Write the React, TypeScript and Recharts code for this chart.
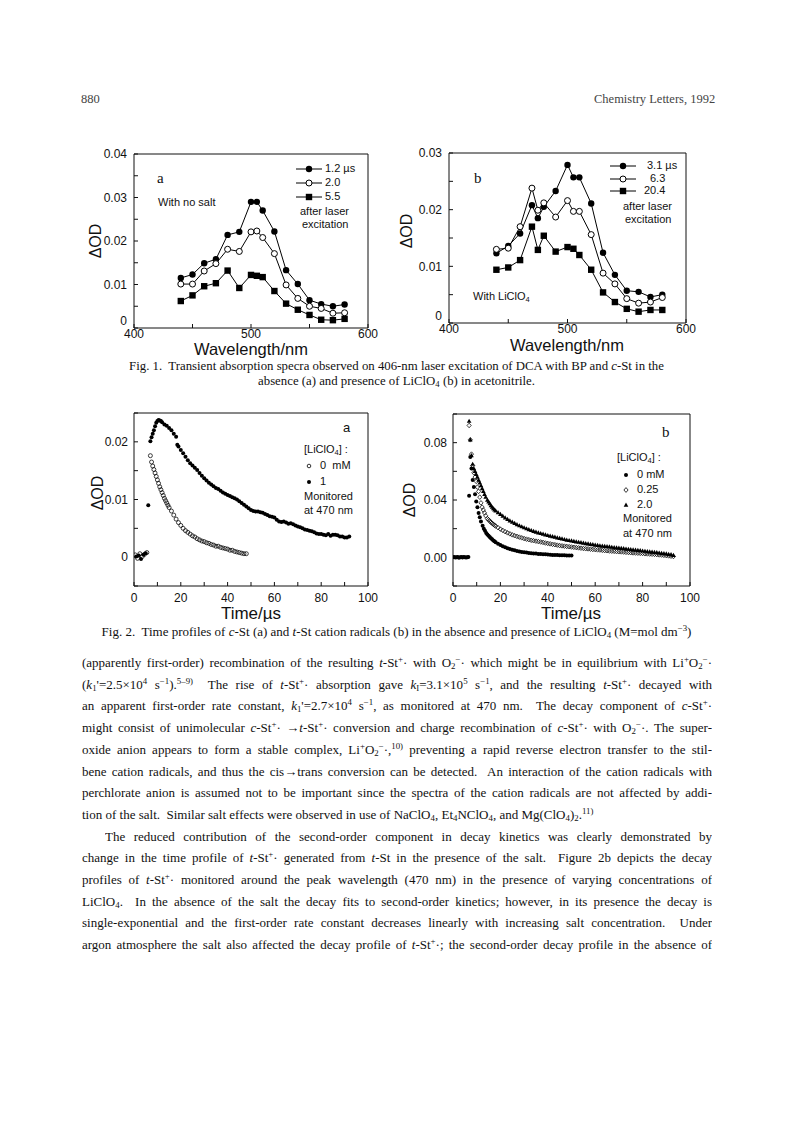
import React from "react";
import { ComposedChart, Line, Scatter, XAxis, YAxis } from "recharts";

const SANS = "'Liberation Sans', Arial, Helvetica, sans-serif";
const SERIF = "'Liberation Serif', 'Times New Roman', serif";
const INK = "#111";

// ---------- Fig. 1a : spectra, no salt ----------
const WL_1A = [440, 450, 460, 470, 480, 490, 500, 505, 510, 520, 530, 540, 550, 560, 570, 580];
const OD_1A_12 = [0.0115, 0.0123, 0.0149, 0.0158, 0.0214, 0.0221, 0.029, 0.029, 0.027, 0.0222, 0.0133, 0.0101, 0.0064, 0.0055, 0.005, 0.0054];
const OD_1A_20 = [0.0101, 0.0101, 0.0131, 0.0148, 0.0181, 0.0176, 0.0221, 0.0223, 0.0208, 0.0171, 0.0099, 0.0068, 0.005, 0.0045, 0.0034, 0.0035];
const OD_1A_55 = [0.0062, 0.0075, 0.0096, 0.0103, 0.0132, 0.0092, 0.0122, 0.012, 0.0117, 0.0085, 0.0056, 0.0042, 0.003, 0.0019, 0.0018, 0.0021];

// ---------- Fig. 1b : spectra, with LiClO4 ----------
const WL_1B = [440, 450, 460, 470, 475, 480, 490, 500, 505, 510, 520, 530, 540, 550, 560, 570, 580];
const OD_1B_31 = [0.0123, 0.0136, 0.0158, 0.0208, 0.0185, 0.0205, 0.0233, 0.0279, 0.0257, 0.0257, 0.0211, 0.0124, 0.0085, 0.0057, 0.0055, 0.0046, 0.005];
const OD_1B_63 = [0.013, 0.0132, 0.017, 0.0238, 0.0199, 0.0212, 0.0187, 0.0216, 0.0197, 0.0197, 0.0156, 0.0088, 0.0069, 0.0043, 0.0035, 0.0037, 0.0045];
const OD_1B_204 = [0.0094, 0.0098, 0.0111, 0.017, 0.0129, 0.0154, 0.0126, 0.0134, 0.0131, 0.012, 0.0094, 0.0054, 0.0037, 0.0025, 0.002, 0.0023, 0.0023];

const WL_TICKS = [400, 450, 500, 550, 600];
const WL_LABELS = [400, 500, 600];
const Y1A_TICKS = [0, 0.005, 0.01, 0.015, 0.02, 0.025, 0.03, 0.035, 0.04];
const Y1A_LABELS = [0, 0.01, 0.02, 0.03, 0.04];
const Y1B_TICKS = [0, 0.005, 0.01, 0.015, 0.02, 0.025, 0.03];
const Y1B_LABELS = [0, 0.01, 0.02, 0.03];

// ---------- Fig. 2a : c-St+. time profiles [t (us), dOD] ----------
const C_ST_0MM: [number, number][] = [
  [0.5, 0.0004], [1.5, -0.0002], [2.5, 0.0006], [3.5, 0.0001], [4.5, 0.0005], [5.5, 0.0008],
  [7, 0.0176], [7.5, 0.0165], [8, 0.0158], [8.5, 0.0152], [9, 0.0146], [9.5, 0.014], [10, 0.0134], [10.5, 0.0128],
  [11, 0.0122], [11.5, 0.0117], [12, 0.0112], [12.5, 0.0107], [13, 0.0102], [13.5, 0.0098], [14, 0.0094], [14.5, 0.009],
  [15, 0.0086], [16, 0.008], [17, 0.0073], [18, 0.0066], [19, 0.006], [20, 0.0055], [21, 0.005], [22, 0.0046],
  [23, 0.0043], [24, 0.004], [25, 0.0037], [26, 0.0035], [27, 0.0032], [28, 0.003], [29, 0.0028], [30, 0.0027],
  [31, 0.0025], [32, 0.0024], [33, 0.0022], [34, 0.0021], [35, 0.0019], [36, 0.0019], [37, 0.0017], [38, 0.0016],
  [39, 0.0015], [40, 0.0014], [41, 0.0012], [42, 0.0012], [43, 0.001], [44, 0.0009], [45, 0.0008], [46, 0.0007],
  [47, 0.0006], [48, 0.0006],
];
const C_ST_1MM: [number, number][] = [
  [1, 0.0001], [2, 0.0003], [3, -0.0003], [4, 0.0004], [5, 0.0007], [6.1, 0.009],
  [7, 0.0201], [7.5, 0.0208], [8, 0.0214], [8.5, 0.022], [9, 0.0227], [9.5, 0.0233], [10, 0.0236], [10.5, 0.0238],
  [11, 0.0237], [11.5, 0.0236], [12, 0.0234], [13, 0.023], [14, 0.0228], [15, 0.0224], [16, 0.022], [17, 0.0214],
  [18, 0.0209], [18.5, 0.0195], [19, 0.0192], [20, 0.0186], [21, 0.018], [22, 0.0174], [23, 0.0168], [24, 0.0163],
  [25, 0.0159], [26, 0.0155], [27, 0.0151], [28, 0.0146], [29, 0.0141], [30, 0.0137], [31, 0.0133], [32, 0.0129],
  [33, 0.0126], [34, 0.0123], [35, 0.012], [36, 0.0118], [37, 0.0115], [38, 0.0112], [39, 0.011], [40, 0.0108],
  [41, 0.0106], [42, 0.0104], [43, 0.0102], [44, 0.01], [45, 0.0097], [46, 0.0094], [47, 0.0091], [48, 0.0088],
  [49, 0.0085], [50, 0.0082], [51, 0.008], [52, 0.0079], [53, 0.0079], [54, 0.0078], [55, 0.0077], [56, 0.0075],
  [57, 0.0073], [58, 0.0071], [59, 0.007], [60, 0.0069], [61, 0.0065], [62, 0.0062], [63, 0.0061], [64, 0.0062],
  [65, 0.006], [66, 0.0058], [67, 0.0059], [68, 0.0057], [69, 0.0055], [70, 0.0053], [71, 0.0052], [72, 0.005],
  [73, 0.0048], [74, 0.0047], [75, 0.0046], [76, 0.0045], [77, 0.0043], [78, 0.0041], [79, 0.004], [80, 0.004],
  [81, 0.0039], [82, 0.0038], [83, 0.004], [84, 0.0037], [85, 0.0039], [86, 0.0039], [87, 0.0038], [88, 0.0036],
  [89, 0.0036], [90, 0.0034], [91, 0.0034], [92, 0.0036],
];

// ---------- Fig. 2b : t-St+. time profiles [t (us), dOD] ----------
const T_ST_0MM: [number, number][] = [
  [0, 0], [0.5, 0.0003], [1, -0.0002], [1.5, 0.0001], [2, 0.0002], [2.5, -0.0003], [3, 0.0001], [3.5, 0.0002],
  [4, -0.0001], [4.5, 0.0002], [5, 0], [5.5, -0.0002], [6, 0.0001], [6.5, 0.0002],
  [6.8, 0.043], [7.3, 0.07], [7.8, 0.062], [8.3, 0.054], [8.8, 0.049], [9.3, 0.044], [9.8, 0.039], [10.3, 0.035],
  [10.8, 0.031], [11.3, 0.028], [11.8, 0.025], [12.5, 0.022], [13, 0.02], [13.5, 0.0185], [14, 0.017], [14.5, 0.016],
  [15, 0.015], [15.5, 0.0142], [16, 0.0133], [16.5, 0.0126], [17, 0.0118], [17.5, 0.0112], [18, 0.0106], [19, 0.0095],
  [20, 0.0086], [21, 0.0078], [22, 0.0071], [23, 0.0064], [24, 0.0058], [25, 0.0053], [26, 0.0049], [27, 0.0045],
  [28, 0.0041], [29, 0.0038], [30, 0.0035], [31, 0.0033], [32, 0.0031], [33, 0.0029], [34, 0.0027], [35, 0.0026],
  [36, 0.0024], [37, 0.0023], [38, 0.0022], [39, 0.0021], [40, 0.0019], [41, 0.0018], [42, 0.0017], [43, 0.0017],
  [44, 0.0016], [45, 0.0015], [46, 0.0014], [47, 0.0014], [48, 0.0013], [49, 0.0012], [50, 0.0012],
];
const T_ST_025MM: [number, number][] = [
  [6.8, 0.092], [7.3, 0.082], [7.8, 0.072], [8.3, 0.064], [8.8, 0.059], [9.3, 0.056], [9.8, 0.053], [10.3, 0.049],
  [10.8, 0.046], [11.3, 0.042], [11.8, 0.038], [12.3, 0.035], [12.8, 0.033], [13.3, 0.031], [13.8, 0.029], [14.5, 0.027],
  [15, 0.0262], [15.5, 0.0253], [16, 0.0245], [16.5, 0.0238], [17, 0.0231], [17.5, 0.0224], [18, 0.0218], [19, 0.0207],
  [20, 0.0197], [21, 0.0188], [22, 0.0179], [23, 0.0171], [24, 0.0164], [25, 0.0157], [26, 0.0151], [27, 0.0146],
  [28, 0.0141], [29, 0.0136], [30, 0.0131], [31, 0.0127], [32, 0.0123], [33, 0.0119], [34, 0.0116], [35, 0.0113],
  [36, 0.011], [37, 0.0107], [38, 0.0104], [39, 0.01], [40, 0.0097], [41, 0.0094], [42, 0.0091], [43, 0.0088],
  [44, 0.0085], [45, 0.0082], [46, 0.008], [47, 0.0078], [48, 0.0076], [49, 0.0074], [50, 0.0072], [51, 0.007],
  [52, 0.0068], [53, 0.0066], [54, 0.0064], [55, 0.0062], [56, 0.006], [57, 0.0059], [58, 0.0057], [59, 0.0055],
  [60, 0.0054], [61, 0.0052], [62, 0.0051], [63, 0.0049], [64, 0.0047], [65, 0.0046], [66, 0.0044], [67, 0.0043],
  [68, 0.0042], [69, 0.004], [70, 0.0039], [71, 0.0038], [72, 0.0037], [73, 0.0035], [74, 0.0034], [75, 0.0032],
  [76, 0.0031], [77, 0.003], [78, 0.0029], [79, 0.0028], [80, 0.0027], [81, 0.0025], [82, 0.0024], [83, 0.0023],
  [84, 0.0022], [85, 0.0021], [86, 0.0019], [87, 0.0017], [88, 0.0016], [89, 0.0014], [90, 0.0012], [91, 0.001],
  [92, 0.0008], [93, 0.0006],
];
const T_ST_2MM: [number, number][] = [
  [6.8, 0.095], [7.3, 0.082], [7.8, 0.071], [8.3, 0.065], [8.8, 0.062], [9.3, 0.06], [9.8, 0.058], [10.3, 0.056],
  [10.8, 0.054], [11.3, 0.052], [11.8, 0.05], [12.3, 0.048], [12.8, 0.046], [13.3, 0.044], [13.8, 0.042], [14.5, 0.04],
  [15, 0.0388], [15.5, 0.0375], [16, 0.0362], [16.5, 0.035], [17, 0.034], [17.5, 0.0332], [18, 0.0325], [19, 0.0312],
  [20, 0.03], [21, 0.0288], [22, 0.0276], [23, 0.0265], [24, 0.0255], [25, 0.0246], [26, 0.0237], [27, 0.0229],
  [28, 0.0221], [29, 0.0214], [30, 0.0207], [31, 0.02], [32, 0.0194], [33, 0.0188], [34, 0.0182], [35, 0.0177],
  [36, 0.0172], [37, 0.0167], [38, 0.0162], [39, 0.0158], [40, 0.0153], [41, 0.0149], [42, 0.0145], [43, 0.0141],
  [44, 0.0137], [45, 0.0133], [46, 0.0129], [47, 0.0125], [48, 0.0121], [49, 0.0118], [50, 0.0115], [51, 0.0112],
  [52, 0.0109], [53, 0.0106], [54, 0.0103], [55, 0.01], [56, 0.0097], [57, 0.0094], [58, 0.0091], [59, 0.0089],
  [60, 0.0086], [61, 0.0084], [62, 0.0081], [63, 0.0079], [64, 0.0077], [65, 0.0075], [66, 0.0073], [67, 0.0071],
  [68, 0.0069], [69, 0.0067], [70, 0.0065], [71, 0.0063], [72, 0.0061], [73, 0.0059], [74, 0.0057], [75, 0.0055],
  [76, 0.0053], [77, 0.0051], [78, 0.0049], [79, 0.0047], [80, 0.0045], [81, 0.0043], [82, 0.0041], [83, 0.0039],
  [84, 0.0037], [85, 0.0035], [86, 0.0033], [87, 0.0031], [88, 0.0029], [89, 0.0027], [90, 0.0025], [91, 0.0022],
  [92, 0.0019], [93, 0.0015],
];

const T_TICKS = [0, 10, 20, 30, 40, 50, 60, 70, 80, 90, 100];
const T_LABELS = [0, 20, 40, 60, 80, 100];
const Y2A_TICKS = [-0.005, 0, 0.005, 0.01, 0.015, 0.02, 0.025];
const Y2A_LABELS = [0, 0.01, 0.02];
const Y2B_TICKS = [-0.02, 0, 0.02, 0.04, 0.06, 0.08, 0.1];
const Y2B_LABELS = [0, 0.04, 0.08];

const toRows = (pts: [number, number][]) => pts.map(([t, v]) => ({ t, v }));

// ---------- markers ----------
const dotFilled = (p: any) =>
  p.cx == null ? null : <circle key={p.index} cx={p.cx} cy={p.cy} r={3.2} fill="#000" />;
const dotOpen = (p: any) =>
  p.cx == null ? null : <circle key={p.index} cx={p.cx} cy={p.cy} r={3} fill="#fff" stroke="#000" strokeWidth={1} />;
const dotSquare = (p: any) =>
  p.cx == null ? null : <rect key={p.index} x={p.cx - 3.2} y={p.cy - 3.2} width={6.4} height={6.4} fill="#000" />;

const smallFilled = (p: any) => <circle cx={p.cx} cy={p.cy} r={2} fill="#000" />;
const smallOpen = (p: any) => <circle cx={p.cx} cy={p.cy} r={2} fill="none" stroke="#000" strokeWidth={0.75} />;
const smallDiamond = (p: any) => (
  <path
    d={`M${p.cx},${p.cy - 2.3}L${p.cx + 2.1},${p.cy}L${p.cx},${p.cy + 2.3}L${p.cx - 2.1},${p.cy}Z`}
    fill="none"
    stroke="#000"
    strokeWidth={0.75}
  />
);
const smallTriangle = (p: any) => (
  <path d={`M${p.cx},${p.cy - 2.5}L${p.cx + 2.3},${p.cy + 1.7}L${p.cx - 2.3},${p.cy + 1.7}Z`} fill="#000" />
);

// ---------- framed panel ----------
interface PanelProps {
  plotX: number;
  plotY: number;
  plotW: number;
  plotH: number;
  data?: any[];
  xKey: string;
  yKey?: string;
  xDomain: [number, number];
  xTicks: number[];
  xLabels: number[];
  xTickMargin: number;
  yDomain: [number, number];
  yTicks: number[];
  yLabels: number[];
  yFmt: (v: number) => string;
  yTickMargin: number;
  zeroLift?: number;
  children: React.ReactNode;
}

function Panel(p: PanelProps) {
  const YW = 46, XH = 34, RW = 4, TH = 4, M = 2, MR = 16;
  const width = M + YW + p.plotW + RW + MR;
  const height = M + TH + p.plotH + XH + M;
  const tickFont = { fontSize: 12, fill: INK, fontFamily: SANS };
  const lift = p.zeroLift || 0;
  const yTick = (t: any) => {
    const v = t.payload.value;
    if (!p.yLabels.includes(v)) return <g />;
    return (
      <text x={t.x} y={t.y - (v === 0 ? lift : 0)} dy="0.355em" textAnchor="end" fontSize={12} fontFamily={SANS} fill={INK}>
        {p.yFmt(v)}
      </text>
    );
  };
  return (
    <div style={{ position: "absolute", left: p.plotX - M - YW, top: p.plotY - M - TH }}>
      <ComposedChart width={width} height={height} data={p.data} margin={{ top: M, right: MR, bottom: M, left: M }}>
        <XAxis
          xAxisId="b"
          type="number"
          dataKey={p.xKey}
          domain={p.xDomain}
          ticks={p.xTicks}
          interval={0}
          allowDataOverflow
          height={XH}
          tickSize={-4}
          tickMargin={p.xTickMargin}
          tickFormatter={(v: number) => (p.xLabels.includes(v) ? String(v) : "")}
          tick={tickFont}
          axisLine={{ stroke: INK }}
          tickLine={{ stroke: INK }}
        />
        <XAxis
          xAxisId="t"
          orientation="top"
          type="number"
          domain={p.xDomain}
          ticks={p.xTicks}
          interval={0}
          allowDataOverflow
          height={TH}
          tickSize={-4}
          tick={false}
          axisLine={{ stroke: INK }}
          tickLine={{ stroke: INK }}
        />
        <YAxis
          yAxisId="l"
          type="number"
          dataKey={p.yKey}
          domain={p.yDomain}
          ticks={p.yTicks}
          interval={0}
          allowDataOverflow
          width={YW}
          tickSize={-4}
          tickMargin={p.yTickMargin}
          tick={yTick}
          axisLine={{ stroke: INK }}
          tickLine={{ stroke: INK }}
        />
        <YAxis
          yAxisId="r"
          orientation="right"
          type="number"
          domain={p.yDomain}
          ticks={p.yTicks}
          interval={0}
          allowDataOverflow
          width={RW}
          tickSize={-4}
          tick={false}
          axisLine={{ stroke: INK }}
          tickLine={{ stroke: INK }}
        />
        {p.children}
      </ComposedChart>
    </div>
  );
}

// ---------- text helpers ----------
const abs = (left: number, top: number, extra: React.CSSProperties = {}): React.CSSProperties => ({
  position: "absolute",
  left,
  top,
  whiteSpace: "nowrap",
  ...extra,
});

function Centered({ x, y, size, font, children, rotate }: any) {
  return (
    <div
      style={{
        position: "absolute",
        left: x,
        top: y,
        transform: `translate(-50%, -50%)${rotate ? " rotate(-90deg)" : ""}`,
        fontSize: size,
        fontFamily: font,
        lineHeight: 1,
        whiteSpace: "nowrap",
        color: INK,
      }}
    >
      {children}
    </div>
  );
}

function Label({ x, y, size = 11, font = SANS, children }: any) {
  return (
    <div style={abs(x, y - size * 0.6, { fontSize: size, fontFamily: font, lineHeight: "1.2", color: INK })}>
      {children}
    </div>
  );
}

function LegendLine({ x, y, marker }: { x: number; y: number; marker: "filled" | "open" | "square" }) {
  return (
    <svg style={{ position: "absolute", left: x, top: y - 5 }} width={26} height={10}>
      <line x1={0} y1={5} x2={26} y2={5} stroke="#000" strokeWidth={1} />
      {marker === "filled" && <circle cx={13} cy={5} r={3.2} fill="#000" />}
      {marker === "open" && <circle cx={13} cy={5} r={3} fill="#fff" stroke="#000" />}
      {marker === "square" && <rect x={9.8} y={1.8} width={6.4} height={6.4} fill="#000" />}
    </svg>
  );
}

function LegendMark({ x, y, marker }: { x: number; y: number; marker: "filled" | "open" | "diamond" | "triangle" }) {
  return (
    <svg style={{ position: "absolute", left: x - 4, top: y - 4 }} width={8} height={8}>
      {marker === "filled" && <circle cx={4} cy={4} r={2} fill="#000" />}
      {marker === "open" && <circle cx={4} cy={4} r={1.8} fill="none" stroke="#000" strokeWidth={0.8} />}
      {marker === "diamond" && <path d="M4,1.6L6.1,4L4,6.4L1.9,4Z" fill="none" stroke="#000" strokeWidth={0.8} />}
      {marker === "triangle" && <path d="M4,1.5L6.3,5.8L1.7,5.8Z" fill="#000" />}
    </svg>
  );
}

const BODY_LINES: { last?: boolean; indent?: number; content: React.ReactNode }[] = [
  { content: <>(apparently first-order) recombination of the resulting <i>t</i>-St<sup>+</sup>· with O<sub>2</sub><sup>−</sup>· which might be in equilibrium with Li<sup>+</sup>O<sub>2</sub><sup>−</sup>·</> },
  { content: <>(<i>k</i><sub>1</sub>'=2.5×10<sup>4</sup> s<sup>−1</sup>).<sup>5–9)</sup>&nbsp; The rise of <i>t</i>-St<sup>+</sup>· absorption gave <i>k</i><sub>I</sub>=3.1×10<sup>5</sup> s<sup>−1</sup>, and the resulting <i>t</i>-St<sup>+</sup>· decayed with</> },
  { content: <>an apparent first-order rate constant, <i>k</i><sub>1</sub>'=2.7×10<sup>4</sup> s<sup>−1</sup>, as monitored at 470 nm.&nbsp; The decay component of <i>c</i>-St<sup>+</sup>·</> },
  { content: <>might consist of unimolecular <i>c</i>-St<sup>+</sup>· →<i>t</i>-St<sup>+</sup>· conversion and charge recombination of <i>c</i>-St<sup>+</sup>· with O<sub>2</sub><sup>−</sup>·. The super-</> },
  { content: <>oxide anion appears to form a stable complex, Li<sup>+</sup>O<sub>2</sub><sup>−</sup>·,<sup>10)</sup> preventing a rapid reverse electron transfer to the stil-</> },
  { content: <>bene cation radicals, and thus the cis→trans conversion can be detected.&nbsp; An interaction of the cation radicals with</> },
  { content: <>perchlorate anion is assumed not to be important since the spectra of the cation radicals are not affected by addi-</> },
  { last: true, content: <>tion of the salt.&nbsp; Similar salt effects were observed in use of NaClO<sub>4</sub>, Et<sub>4</sub>NClO<sub>4</sub>, and Mg(ClO<sub>4</sub>)<sub>2</sub>.<sup>11)</sup></> },
  { indent: 23, content: <>The reduced contribution of the second-order component in decay kinetics was clearly demonstrated by</> },
  { content: <>change in the time profile of <i>t</i>-St<sup>+</sup>· generated from <i>t</i>-St in the presence of the salt.&nbsp; Figure 2b depicts the decay</> },
  { content: <>profiles of <i>t</i>-St<sup>+</sup>· monitored around the peak wavelength (470 nm) in the presence of varying concentrations of</> },
  { content: <>LiClO<sub>4</sub>.&nbsp; In the absence of the salt the decay fits to second-order kinetics; however, in its presence the decay is</> },
  { content: <>single-exponential and the first-order rate constant decreases linearly with increasing salt concentration.&nbsp; Under</> },
  { content: <>argon atmosphere the salt also affected the decay profile of <i>t</i>-St<sup>+</sup>·; the second-order decay profile in the absence of</> },
];
const BODY_TOP = 663;
const BODY_STEP = 21.7;

const supSub = `
.pg sup { font-size: 0.68em; vertical-align: 0.55em; line-height: 0; }
.pg sub { font-size: 0.68em; vertical-align: -0.25em; line-height: 0; }
`;

export default function App() {
  const rows1a = WL_1A.map((wl, i) => ({ wl, a: OD_1A_12[i], b: OD_1A_20[i], c: OD_1A_55[i] }));
  const rows1b = WL_1B.map((wl, i) => ({ wl, a: OD_1B_31[i], b: OD_1B_63[i], c: OD_1B_204[i] }));
  const fmt2 = (v: number) => (v === 0 ? "0" : v.toFixed(2));
  const fmt2z = (v: number) => v.toFixed(2);

  return (
    <div className="pg" style={{ position: "absolute", left: 0, top: 0, width: 793, height: 1121, background: "#fff", color: INK, overflow: "hidden" }}>
      <style>{supSub}</style>

      {/* running head */}
      <div style={abs(81, 92, { fontSize: 12.5, fontFamily: SERIF, color: "#444" })}>880</div>
      <div style={abs(594, 92, { fontSize: 12.5, fontFamily: SERIF, color: "#444", width: 119, textAlign: "right" })}>Chemistry Letters, 1992</div>

      {/* Fig. 1a */}
      <Panel
        plotX={134} plotY={154} plotW={234} plotH={174}
        data={rows1a} xKey="wl"
        xDomain={[400, 600]} xTicks={WL_TICKS} xLabels={WL_LABELS} xTickMargin={5}
        yDomain={[0, 0.04]} yTicks={Y1A_TICKS} yLabels={Y1A_LABELS} yFmt={fmt2} yTickMargin={11} zeroLift={7}
      >
        <Line xAxisId="b" yAxisId="l" type="linear" dataKey="a" stroke="#000" strokeWidth={1} dot={dotFilled} activeDot={false} isAnimationActive={false} />
        <Line xAxisId="b" yAxisId="l" type="linear" dataKey="b" stroke="#000" strokeWidth={1} dot={dotOpen} activeDot={false} isAnimationActive={false} />
        <Line xAxisId="b" yAxisId="l" type="linear" dataKey="c" stroke="#000" strokeWidth={1} dot={dotSquare} activeDot={false} isAnimationActive={false} />
      </Panel>
      <Centered x={96} y={241} size={16} font={SANS} rotate>ΔOD</Centered>
      <Centered x={251} y={349} size={16.5} font={SANS}>Wavelength/nm</Centered>
      <Label x={157} y={178} size={15} font={SERIF}>a</Label>
      <Label x={158} y={203}>With no salt</Label>
      <LegendLine x={296} y={169} marker="filled" />
      <LegendLine x={296} y={183} marker="open" />
      <LegendLine x={296} y={197} marker="square" />
      <Label x={325} y={169}>1.2 µs</Label>
      <Label x={325} y={183}>2.0</Label>
      <Label x={325} y={197}>5.5</Label>
      <Label x={300} y={212}>after laser</Label>
      <Label x={302} y={225}>excitation</Label>

      {/* Fig. 1b */}
      <Panel
        plotX={449} plotY={153} plotW={237} plotH={170}
        data={rows1b} xKey="wl"
        xDomain={[400, 600]} xTicks={WL_TICKS} xLabels={WL_LABELS} xTickMargin={5}
        yDomain={[0, 0.03]} yTicks={Y1B_TICKS} yLabels={Y1B_LABELS} yFmt={fmt2} yTickMargin={11} zeroLift={7}
      >
        <Line xAxisId="b" yAxisId="l" type="linear" dataKey="a" stroke="#000" strokeWidth={1} dot={dotFilled} activeDot={false} isAnimationActive={false} />
        <Line xAxisId="b" yAxisId="l" type="linear" dataKey="b" stroke="#000" strokeWidth={1} dot={dotOpen} activeDot={false} isAnimationActive={false} />
        <Line xAxisId="b" yAxisId="l" type="linear" dataKey="c" stroke="#000" strokeWidth={1} dot={dotSquare} activeDot={false} isAnimationActive={false} />
      </Panel>
      <Centered x={407} y={231} size={16} font={SANS} rotate>ΔOD</Centered>
      <Centered x={567} y={345} size={16.5} font={SANS}>Wavelength/nm</Centered>
      <Label x={474} y={178} size={15} font={SERIF}>b</Label>
      <Label x={473} y={297}>With LiClO<sub>4</sub></Label>
      <LegendLine x={610} y={166} marker="filled" />
      <LegendLine x={610} y={179} marker="open" />
      <LegendLine x={610} y={191} marker="square" />
      <Label x={647} y={166}>3.1 µs</Label>
      <Label x={650} y={179}>6.3</Label>
      <Label x={644} y={191}>20.4</Label>
      <Label x={623} y={207}>after laser</Label>
      <Label x={625} y={220}>excitation</Label>

      {/* Fig. 1 caption */}
      <div style={abs(0, 359, { width: 793, textAlign: "center", fontSize: 12.8, fontFamily: SERIF, lineHeight: "15px" })}>
        Fig. 1.&nbsp; Transient absorption specra observed on 406-nm laser excitation of DCA with BP and <i>c</i>-St in the
        <br />
        absence (a) and presence of LiClO<sub>4</sub> (b) in acetonitrile.
      </div>

      {/* Fig. 2a */}
      <Panel
        plotX={134} plotY={413} plotW={234} plotH={173}
        xKey="t" yKey="v"
        xDomain={[0, 100]} xTicks={T_TICKS} xLabels={T_LABELS} xTickMargin={11}
        yDomain={[-0.005, 0.025]} yTicks={Y2A_TICKS} yLabels={Y2A_LABELS} yFmt={fmt2} yTickMargin={10}
      >
        <Scatter xAxisId="b" yAxisId="l" data={toRows(C_ST_0MM)} shape={smallOpen} isAnimationActive={false} />
        <Scatter xAxisId="b" yAxisId="l" data={toRows(C_ST_1MM)} shape={smallFilled} isAnimationActive={false} />
      </Panel>
      <Centered x={98} y={493} size={16} font={SANS} rotate>ΔOD</Centered>
      <Centered x={251} y={613} size={17} font={SANS}>Time/µs</Centered>
      <Label x={343} y={428} size={13}>a</Label>
      <Label x={304} y={450}>[LiClO<sub>4</sub>] :</Label>
      <LegendMark x={309} y={466} marker="open" />
      <LegendMark x={309} y={482} marker="filled" />
      <Label x={320} y={466}>0&nbsp; mM</Label>
      <Label x={320} y={482}>1</Label>
      <Label x={304} y={497}>Monitored</Label>
      <Label x={304} y={511}>at 470 nm</Label>

      {/* Fig. 2b */}
      <Panel
        plotX={453} plotY={414} plotW={237} plotH={172}
        xKey="t" yKey="v"
        xDomain={[0, 100]} xTicks={T_TICKS} xLabels={T_LABELS} xTickMargin={11}
        yDomain={[-0.02, 0.1]} yTicks={Y2B_TICKS} yLabels={Y2B_LABELS} yFmt={fmt2z} yTickMargin={10}
      >
        <Scatter xAxisId="b" yAxisId="l" data={toRows(T_ST_2MM)} shape={smallTriangle} isAnimationActive={false} />
        <Scatter xAxisId="b" yAxisId="l" data={toRows(T_ST_025MM)} shape={smallDiamond} isAnimationActive={false} />
        <Scatter xAxisId="b" yAxisId="l" data={toRows(T_ST_0MM)} shape={smallFilled} isAnimationActive={false} />
      </Panel>
      <Centered x={410} y={500} size={16} font={SANS} rotate>ΔOD</Centered>
      <Centered x={571} y={613} size={17} font={SANS}>Time/µs</Centered>
      <Label x={662} y={432} size={15} font={SERIF}>b</Label>
      <Label x={617} y={458}>[LiClO<sub>4</sub>] :</Label>
      <LegendMark x={626} y={475} marker="filled" />
      <LegendMark x={626} y={490} marker="diamond" />
      <LegendMark x={626} y={505} marker="triangle" />
      <Label x={637} y={475}>0 mM</Label>
      <Label x={637} y={490}>0.25</Label>
      <Label x={637} y={505}>2.0</Label>
      <Label x={623} y={519}>Monitored</Label>
      <Label x={623} y={534}>at 470 nm</Label>

      {/* Fig. 2 caption */}
      <div style={abs(0, 624, { width: 793, textAlign: "center", fontSize: 13, fontFamily: SERIF, lineHeight: "16px" })}>
        Fig. 2.&nbsp; Time profiles of <i>c</i>-St (a) and <i>t</i>-St cation radicals (b) in the absence and presence of LiClO<sub>4</sub> (M=mol dm<sup>−3</sup>)
      </div>

      {/* body text */}
      {BODY_LINES.map((ln, i) => (
        <div
          key={i}
          style={{
            position: "absolute",
            left: 82 + (ln.indent || 0),
            top: BODY_TOP + i * BODY_STEP - 9,
            width: 630 - (ln.indent || 0),
            height: 18,
            lineHeight: "18px",
            overflow: "hidden",
            fontSize: 13,
            fontFamily: SERIF,
            textAlign: ln.last ? "left" : "justify",
            textAlignLast: ln.last ? "left" : "justify",
          }}
        >
          {ln.content}
        </div>
      ))}
    </div>
  );
}
